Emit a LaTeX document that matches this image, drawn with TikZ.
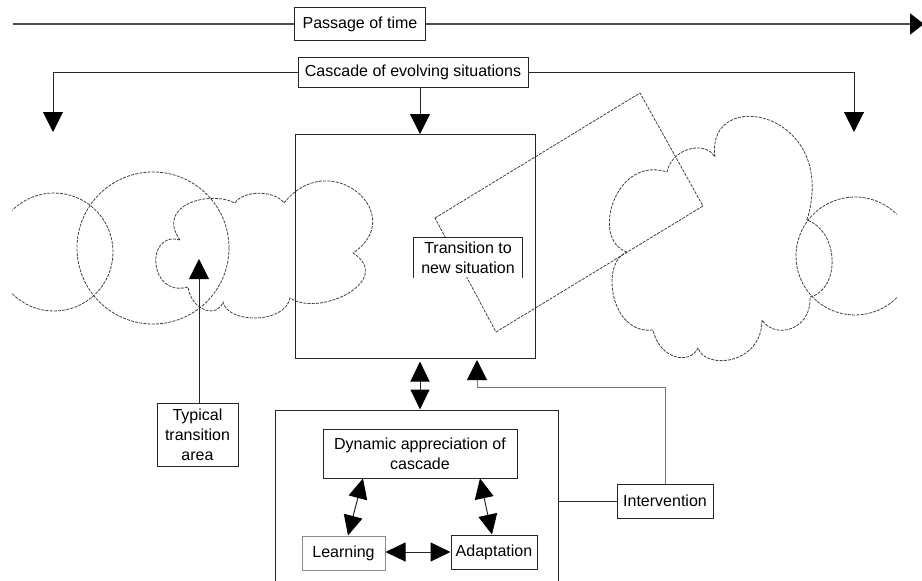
\documentclass[tikz,border=0pt]{standalone}
\usepackage{fontspec}
\setmainfont{Liberation Sans}
\usetikzlibrary{arrows.meta,calc}
\begin{document}
\begin{tikzpicture}[x=1pt,y=-1pt,
  box/.style={draw=black!85, line width=1pt, fill=white, inner sep=0pt, align=center, font=\fontsize{16}{20}\selectfont},
  frame/.style={draw=black!85, line width=1pt, inner sep=0pt},
  conn/.style={draw=black!85, line width=1pt},
  bigtip/.style={-{Triangle[length=20pt,width=20pt,color=black]}},
  dbltip/.style={{Triangle[length=20pt,width=19pt,color=black]}-{Triangle[length=20pt,width=19pt,color=black]}},
  sketch/.style={draw=black!75, line width=0.8pt, dash pattern=on 3pt off 1.2pt},
  timeline/.style={draw=black!70, line width=1.6pt},
]
\useasboundingbox (0,0) rectangle (922,581);

% sketched situations
\draw[sketch] (54,252) ++(135:59) arc[start angle=135, end angle=-135, radius=59];
\draw[sketch] (153,248) circle[radius=76];
\draw[sketch] (855,256) ++(45:59) arc[start angle=45, end angle=315, radius=59];
\draw[sketch] (180,240) .. controls (145,230) and (148,298) .. (188,287)
  .. controls (192,312) and (218,318) .. (223,302)
  .. controls (228,324) and (285,324) .. (290,298)
  .. controls (320,318) and (395,280) .. (353,253)
  .. controls (410,215) and (330,145) .. (284,203)
  .. controls (275,190) and (243,190) .. (235,203)
  .. controls (210,190) and (155,205) .. (180,240);
\draw[sketch] (627,252) .. controls (590,240) and (615,155) .. (667,172)
  .. controls (672,148) and (705,140) .. (715,157)
  .. controls (705,85) and (840,110) .. (807,220)
  .. controls (840,232) and (840,290) .. (810,297)
  .. controls (812,330) and (775,340) .. (762,320)
  .. controls (762,365) and (705,370) .. (698,348)
  .. controls (690,365) and (660,360) .. (653,330)
  .. controls (610,335) and (600,262) .. (627,252);
\draw[sketch] (435,218) -- (640,93) -- (703,206) -- (496,332) -- cycle;

% frames
\node[frame, minimum width=240pt, minimum height=224pt] (bigbox) at (415,246) {};
\node[frame, minimum width=283pt, minimum height=180pt] (lower) at (416.5,500) {};

% nodes
\node[box, minimum width=131pt, minimum height=33pt] (time) at (360,24) {Passage of time};
\node[box, minimum width=230pt, minimum height=30pt] (cascade) at (413,72) {Cascade of evolving situations};
\node[box, draw=none, minimum width=108pt, minimum height=39pt] (trans) at (468,257.5) {Transition to\\new situation};
\draw[conn] (trans.south west) |- (trans.north east) -- (trans.south east);
\node[box, minimum width=81pt, minimum height=63pt] (typical) at (197.5,434.5) {Typical\\transition\\area};
\node[box, minimum width=194pt, minimum height=49pt] (dynamic) at (420,453.5) {Dynamic appreciation of\\cascade};
\node[box, draw=black!45, minimum width=83pt, minimum height=34pt] (learning) at (343.5,553) {Learning};
\node[box, minimum width=86pt, minimum height=34pt] (adaptation) at (494,552) {Adaptation};
\node[box, minimum width=96pt, minimum height=34pt] (intervention) at (665,501) {Intervention};

% coordinates
\coordinate (tstart) at (13,24);
\coordinate (tend) at (924,24);
\coordinate (ldrop) at (53,132);
\coordinate (rdrop) at (854,132);
\coordinate (cdrop) at (420,134);
\coordinate (ttip) at (199,259);
\coordinate (ivcorner) at (477,387);
\coordinate (ivtip) at (477,360);

% connectors
\draw[timeline] (tstart) -- (time.west);
\draw[timeline, -{Triangle[length=14pt,width=21pt,color=black]}] (time.east) -- (tend);
\draw[conn, bigtip] (cascade.west) -| (ldrop);
\draw[conn, bigtip] (cascade.east) -| (rdrop);
\draw[conn, bigtip] (cdrop |- cascade.south) -- (cdrop);
\draw[conn, bigtip] (ttip |- typical.north) -- (ttip);
\draw[conn, dbltip, shorten <=3pt] (bigbox.south -| dynamic.north) -- (lower.north -| dynamic.north);
\draw[conn, draw=black!55, bigtip] (intervention.north) |- (ivcorner) -- (ivtip);
\draw[conn] (lower.east |- intervention.west) -- (intervention.west);
\draw[conn, dbltip] ([xshift=-57pt]dynamic.south) -- ([xshift=4.5pt]learning.north);
\draw[conn, dbltip] ([xshift=60pt]dynamic.south) -- ([xshift=-2pt]adaptation.north);
\draw[conn, dbltip] (learning.east |- adaptation.west) -- (adaptation.west);
\end{tikzpicture}
\end{document}
